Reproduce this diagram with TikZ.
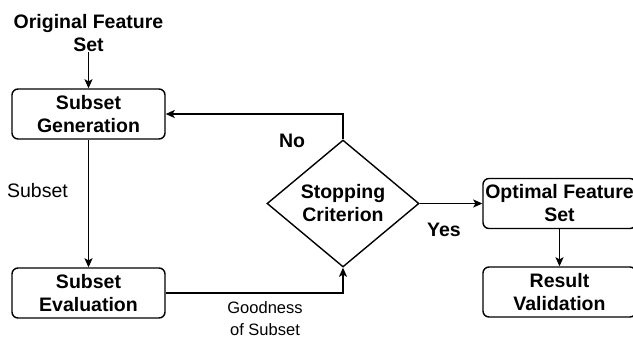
\documentclass[tikz,border=0pt]{standalone}
\usepackage{fontspec}
\setmainfont{Liberation Sans}
\usetikzlibrary{shapes.geometric,arrows.meta}
\begin{document}
\begin{tikzpicture}[x=1pt,y=-1pt,
  every node/.style={font=\fontsize{19.5}{23}\selectfont\bfseries, align=center, inner sep=0pt},
  procbox/.style={draw, line width=1.4pt, rounded corners=6pt, minimum width=153pt, minimum height=50pt},
  decision/.style={draw, line width=1.4pt, diamond, aspect=1.2, minimum width=152pt, minimum height=127pt},
  flow/.style={line width=1.4pt, -{Stealth[length=9pt,width=8pt,inset=2pt]}},
  plain/.style={font=\fontsize{19.5}{23}\selectfont},
  small/.style={font=\fontsize{16.5}{22}\selectfont}
]
\useasboundingbox (0,0) rectangle (633,341);
\clip (0,0) rectangle (633,341);
\fill[white] (0,0) rectangle (633,341);

% left column
\node (src) at (88.5,33) {Original Feature\\Set};
\node[procbox] (gen) at (88.5,114) {Subset\\Generation};
\node[procbox] (eval) at (88.5,293) {Subset\\Evaluation};

% decision
\node[decision] (stop) at (343,203.5) {Stopping\\Criterion};

% right column
\node[procbox] (opt) at (559.5,203.5) {Optimal Feature\\Set};
\node[procbox] (res) at (559.5,292) {Result\\Validation};

% labels
\node[plain] (lsub) at (37.5,191) {Subset};
\node[small] (lgood) at (265,319) {Goodness\\of Subset};
\node (lno) at (292,141) {No};
\node (lyes) at (444,230) {Yes};

% connectors
\draw[flow] (src) -- (gen);
\draw[flow] (gen) -- (eval);
\draw[flow] (eval.east) -| (stop.south);
\draw[flow] (stop.north) |- (gen.east);
\draw[flow] (stop.east) -- (opt.west);
\draw[flow] (opt.south -| res.north) -- (res.north);
\end{tikzpicture}
\end{document}
